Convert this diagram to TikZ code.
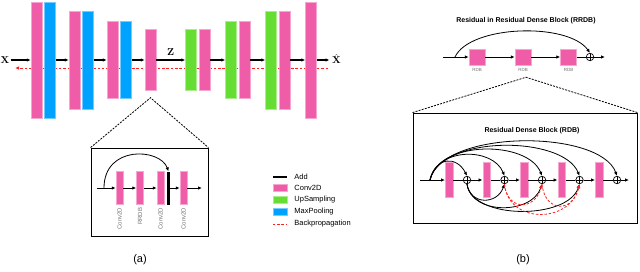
\documentclass[tikz,border=0pt]{standalone}
\usepackage[no-math]{fontspec}
\setmainfont{Liberation Sans}
\usepackage{tikz}
\usetikzlibrary{positioning, arrows.meta, calc, backgrounds}
\definecolor{convcol}{HTML}{EF5DA8}
\definecolor{poolcol}{HTML}{00A2FF}
\definecolor{upcol}{HTML}{66DD33}
\definecolor{retrocol}{HTML}{FF2020}
\tikzset{
	>={Latex[length=4pt, width=3.5pt]},
	% strato Conv2D
	conv/.style={rectangle, fill=convcol, draw=convcol!55!white, line width=0.5pt, minimum width=11pt, inner sep=0pt},
	% strato MaxPooling
	pool/.style={conv, fill=poolcol, draw=poolcol!55!white},
	% strato UpSampling
	ups/.style={conv, fill=upcol, draw=upcol!55!white},
	% barretta Conv2D nei dettagli
	convp/.style={conv, minimum width=7pt, minimum height=33pt},
	% blocco RDB (quadrato)
	rdb/.style={conv, minimum width=16pt, minimum height=16pt},
	% somma (cerchio con croce)
	somma/.style={circle, draw, line width=0.7pt, minimum size=7.5pt, inner sep=0pt,
	              path picture={\draw[line width=0.7pt] (path picture bounding box.north) -- (path picture bounding box.south)
	                            (path picture bounding box.west) -- (path picture bounding box.east);}},
	% freccia principale
	flusso/.style={->, line width=1.2pt},
	% freccia sottile
	fil/.style={->, line width=0.8pt},
	% retropropagazione
	retro/.style={retrocol, line width=0.8pt, dash pattern=on 2.5pt off 1.8pt},
	% linee tratteggiate dell'ingrandimento
	lente/.style={line width=0.8pt, dash pattern=on 2pt off 1.2pt},
	% riquadro di dettaglio
	riquadro/.style={draw, line width=0.9pt, inner sep=0pt},
	% etichette grigie
	etich/.style={text=black!55, font=\fontsize{6}{7}\selectfont, inner sep=0pt},
	% titoli
	titolo/.style={font=\fontsize{7}{8}\selectfont\bfseries, inner sep=0pt},
	% legenda
	voce/.style={conv, minimum width=14pt, minimum height=7pt},
	legtesto/.style={font=\fontsize{7.5}{9}\selectfont, inner sep=0pt, anchor=west},
	% didascalie
	didasc/.style={font=\fontsize{11}{13}\selectfont},
}

\begin{document}
\begin{tikzpicture}[x=1pt, y=1pt]
    \useasboundingbox (0,0) rectangle (640,-271);
    % (a)
    \node[inner sep=1pt] (x) at (5,-60) {$\mathbf{X}$};
    \node[conv, minimum height=116pt] (c1) at (36.5,-60) {};
    \node[pool, minimum height=116pt, right=2pt of c1] (p1) {};
    \node[conv, minimum height=98pt, right=13pt of p1] (c2) {};
    \node[pool, minimum height=98pt, right=2pt of c2] (p2) {};
    \node[conv, minimum height=77pt, right=13pt of p2] (c3) {};
    \node[pool, minimum height=77pt, right=2pt of c3] (p3) {};
    \node[conv, minimum height=61pt, right=13pt of p3] (c4) {};
    \node[ups, minimum height=61pt, right=29pt of c4] (u1) {};
    \node[conv, minimum height=61pt, right=2pt of u1] (c5) {};
    \node[ups, minimum height=77pt, right=15pt of c5] (u2) {};
    \node[conv, minimum height=77pt, right=2pt of u2] (c6) {};
    \node[ups, minimum height=98pt, right=15pt of c6] (u3) {};
    \node[conv, minimum height=98pt, right=2pt of u3] (c7) {};
    \node[conv, minimum height=116pt, right=15pt of c7] (c8) {};
    \node[inner sep=1pt, anchor=west] (xhat) at (331,-59) {$\hat{\mathbf{X}}$};
    \draw[flusso] (x) -- (c1);
    \draw[flusso] (p1) -- (c2);
    \draw[flusso] (p2) -- (c3);
    \draw[flusso] (p3) -- (c4);
    \draw[flusso] (c4) -- node[above=1pt] {$\mathbf{Z}$} (u1);
    \draw[flusso] (c5) -- (u2);
    \draw[flusso] (c6) -- (u3);
    \draw[flusso] (c7) -- (c8);
    \draw[flusso, shorten >=1.5pt] (c8) -- (c8 -| xhat.west);
    \coordinate (bpA) at (328,-68);
    \coordinate (bpB) at (15,-68);
    \begin{scope}[on background layer]
      \draw[retro, ->] (bpA) -- (bpB);
    \end{scope}
    \coordinate (apiceA) at ($(c4.south)+(0,-7)$);
    \node[riquadro, minimum width=117pt, minimum height=88pt] (dettA) at (149.5,-192) {};
    \draw[lente] (dettA.north west) -- (apiceA) -- (dettA.north east);
    \coordinate (inA) at (97,-188);
    \coordinate (diramA) at (104,-188);
    \node[convp] (k1) at (119.5,-188) {};
    \node[convp] (k2) at (140,-188) {};
    \node[convp] (k3) at (160.5,-188) {};
    \node[fill=black, minimum width=3.5pt, minimum height=33pt, inner sep=0pt] (add) at (168.5,-188) {};
    \node[convp] (k4) at (183.5,-188) {};
    \coordinate (outA) at (202,-188);
    \draw[fil] (inA) -- (k1);
    \draw[fil] (k1) -- (k2);
    \draw[fil] (k2) -- (k3);
    \draw[fil] (add) -- (k4);
    \draw[fil] (k4) -- (outA);
    \draw[fil] (diramA) .. controls (104,-145) and (160,-148) .. (add.north);
    \node[etich, rotate=90, anchor=east] (lk1) at ($(k1.south)+(0,-3)$) {Conv2D};
    \node[etich, rotate=90, anchor=east] (lk2) at ($(k2.south)+(0,-3)$) {RRDB};
    \node[etich, rotate=90, anchor=east] (lk3) at ($(k3.south)+(0,-3)$) {Conv2D};
    \node[etich, rotate=90, anchor=east] (lk4) at ($(k4.south)+(0,-3)$) {Conv2D};
    % legenda
    \node[voce, fill=black, draw=none, minimum height=2.5pt] (lAdd) at (280,-177) {};
    \node[voce] (lConv) at (280,-188) {};
    \node[voce, fill=upcol, draw=upcol!55!white] (lUp) at (280,-199.5) {};
    \node[voce, fill=poolcol, draw=poolcol!55!white] (lPool) at (280,-211.5) {};
    \node[voce, fill=none, draw=none] (lRetro) at (280,-224) {};
    \draw[retro] (lRetro.west) -- (lRetro.east);
    \node[legtesto, right=7pt of lAdd] (tAdd) {Add};
    \node[legtesto, right=7pt of lConv] (tConv) {Conv2D};
    \node[legtesto, right=7pt of lUp] (tUp) {UpSampling};
    \node[legtesto, right=7pt of lPool] (tPool) {MaxPooling};
    \node[legtesto, right=7pt of lRetro] (tRetro) {Backpropagation};
    \node[didasc] (capA) at (140,-260) {(a)};
    % (b)
    \node[titolo] (titB) at (526,-21) {Residual in Residual Dense Block (RRDB)};
    \coordinate (inB) at (443,-57);
    \coordinate (diramB) at (455,-57);
    \node[rdb] (r1) at (477,-57) {};
    \node[rdb] (r2) at (523,-57) {};
    \node[rdb] (r3) at (568.5,-57) {};
    \node[somma] (sB) at (590,-57) {};
    \coordinate (outB) at (605,-57);
    \draw[fil] (inB) -- (r1);
    \draw[fil] (r1) -- (r2);
    \draw[fil] (r2) -- (r3);
    \draw[line width=0.8pt] (r3) -- (sB);
    \draw[fil] (sB) -- (outB);
    \draw[fil] (diramB) .. controls (470,-25) and (568,-22) .. (sB.north);
    \node[etich, font=\fontsize{4.5}{5}\selectfont, below=3pt of r1] (lr1) {RDB};
    \node[etich, font=\fontsize{4.5}{5}\selectfont, below=3pt of r2] (lr2) {RDB};
    \node[etich, font=\fontsize{4.5}{5}\selectfont, below=3pt of r3] (lr3) {RDB};
    \coordinate (apiceB) at ($(r2.south)+(3,-12)$);
    \node[riquadro, minimum width=224pt, minimum height=110pt] (dettB) at (525,-168) {};
    \draw[lente] (dettB.north west) -- (apiceB) -- (dettB.north east);
    \node[titolo] (titRDB) at (532,-131) {Residual Dense Block (RDB)};
    \coordinate (inR) at (420,-180);
    \coordinate (diramR) at (430,-180);
    \node[convp, minimum width=7.5pt, minimum height=35pt] (b1) at (449,-180) {};
    \node[somma] (o1) at (467,-180) {};
    \node[convp, minimum width=7.5pt, minimum height=35pt] (b2) at (486.5,-180) {};
    \node[somma] (o2) at (504.5,-180) {};
    \node[convp, minimum width=7.5pt, minimum height=35pt] (b3) at (524,-180) {};
    \node[somma] (o3) at (542,-180) {};
    \node[convp, minimum width=7.5pt, minimum height=35pt] (b4) at (561.5,-180) {};
    \node[somma] (o4) at (579.5,-180) {};
    \node[convp, minimum width=7.5pt, minimum height=35pt] (b5) at (599,-180) {};
    \node[somma] (o5) at (617,-180) {};
    \coordinate (outR) at (629,-180);
    \draw[fil] (inR) -- (b1);
    \draw[line width=0.8pt] (b1) -- (o1);
    \draw[fil] (o1) -- (b2);
    \draw[line width=0.8pt] (b2) -- (o2);
    \draw[fil] (o2) -- (b3);
    \draw[line width=0.8pt] (b3) -- (o3);
    \draw[fil] (o3) -- (b4);
    \draw[line width=0.8pt] (b4) -- (o4);
    \draw[fil] (o4) -- (b5);
    \draw[line width=0.8pt] (b5) -- (o5);
    \draw[fil] (o5) -- (outR);
    \draw[fil] (diramR) .. controls (436,-156) and (457,-156) .. (o1.north);
    \draw[fil] (diramR) .. controls (437,-147) and (493,-147) .. (o2.north);
    \draw[fil] (diramR) .. controls (438,-140) and (528,-140) .. (o3.north);
    \draw[fil] (diramR) .. controls (440,-135) and (563,-135) .. (o4.north);
    \draw[fil] (diramR) .. controls (442,-129) and (600,-129) .. (o5.north);
    \draw[fil] (o1.south) .. controls (470,-205) and (497,-205) .. (o2.south);
    \draw[fil] (o1.south) .. controls (471,-215) and (532,-215) .. (o3.south);
    \draw[fil] (o1.south) .. controls (472,-220) and (568,-220) .. (o4.south);
    \draw[retro, ->] (o2.south) .. controls (507,-211) and (535,-211) .. (o3.south);
    \draw[retro, ->] (o2.south) .. controls (508,-224) and (570,-224) .. (o4.south);
    \draw[retro, ->] (o3.south) .. controls (545,-213) and (573,-213) .. (o4.south);
    \node[didasc] (capB) at (523,-260) {(b)};
\end{tikzpicture}
\end{document}
